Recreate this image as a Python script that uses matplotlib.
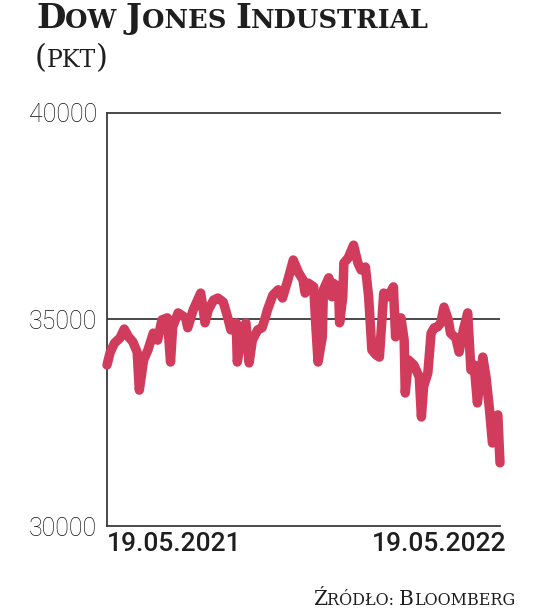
import matplotlib
matplotlib.use("Agg")
import matplotlib.pyplot as plt
import matplotlib.transforms as mtransforms
import pandas as pd

# days after 19.05.2021 and index close (points)
days = [0, 3, 7, 12, 16, 20, 24, 28, 30, 34, 38, 43, 47, 51, 56, 59, 61, 66,
        73, 75, 80, 87, 89, 91, 94, 99, 103, 108, 112, 115, 117, 120, 121, 126,
        129, 132, 135, 140, 144, 147, 149, 154, 159, 163, 168, 173, 178, 182,
        184, 187, 192, 194, 196, 200, 201, 206, 209, 210, 215, 216, 219, 220,
        224, 229, 233, 236, 240, 243, 246, 250, 253, 257, 261, 266, 268, 270,
        273, 276, 277, 280, 285, 290, 292, 294, 298, 301, 304, 307, 310, 313,
        317, 319, 324, 327, 331, 335, 338, 341, 344, 349, 352, 355, 358, 361,
        363, 365]
close = [33900, 34210, 34430, 34550, 34770, 34580, 34460, 34210, 33290, 34020,
         34260, 34670, 34500, 34990, 35040, 33970, 34820, 35160, 35040, 34800,
         35230, 35640, 35300, 34920, 35230, 35470, 35520, 35420, 35060, 34750,
         34750, 34920, 33970, 34750, 34920, 33950, 34500, 34750, 34800, 35040,
         35230, 35590, 35720, 35520, 35960, 36440, 36130, 35960, 35640, 35880,
         35790, 34820, 33970, 34580, 35720, 36010, 35550, 35880, 35790, 34920,
         35550, 36370, 36490, 36800, 36370, 36200, 36270, 35550, 34260, 34140,
         34090, 35640, 35550, 35790, 34580, 34990, 35040, 34500, 33220, 34020,
         33900, 33610, 32640, 33370, 33710, 34670, 34800, 34820, 34920, 35300,
         34990, 34670, 34550, 34210, 34750, 35160, 33780, 33900, 32980, 34090,
         33610, 32880, 32010, 32640, 32690, 31530]
start = "2021-05-19"
y_ticks = [30000, 35000, 40000]

dates = pd.Timestamp(start) + pd.to_timedelta(days, unit="D")

ink = "#1e1e1e"
axis_col = "#3a3a3a"
red = "#d23c5c"

fig = plt.figure(figsize=(5.36, 6.10), dpi=100)
ax = fig.add_axes([107 / 536, 1 - 526 / 610, 393 / 536, 413 / 610])

ax.axhline(35000, color=axis_col, lw=1.3, zorder=1)
ax.axhline(40000, color=axis_col, lw=1.3, zorder=1, clip_on=False)
ax.plot(dates, close, color=red, lw=6.8, solid_capstyle="round",
        solid_joinstyle="round", zorder=3, clip_on=False)

ax.set_ylim(30000, 40000)
ax.set_xlim(dates[0], dates[-1])
ax.set_yticks(y_ticks)
ax.set_yticklabels([str(v) for v in y_ticks], fontfamily="Roboto",
                   fontweight="light", fontsize=18, color="#111111")
ax.set_xticks([dates[0], dates[-1]])
ax.set_xticklabels([d.strftime("%d.%m.%Y") for d in [dates[0], dates[-1]]],
                   fontfamily="Roboto", fontweight="medium", fontsize=19,
                   color=ink)
ax.tick_params(axis="both", length=0)
ax.tick_params(axis="y", pad=7)
ax.tick_params(axis="x", pad=4)
lbls = ax.get_xticklabels()
lbls[0].set_ha("left")
lbls[1].set_ha("right")
shift = mtransforms.ScaledTranslation(7 / 100, 0, fig.dpi_scale_trans)
lbls[1].set_transform(lbls[1].get_transform() + shift)

for s in ["top", "right"]:
    ax.spines[s].set_visible(False)
for s in ["left", "bottom"]:
    ax.spines[s].set_color(axis_col)
    ax.spines[s].set_linewidth(1.3)


def small_caps(parts, x, y, ha="left", **kw):
    # parts: list of (text, size); drawn one after another on one baseline
    r = fig.canvas.get_renderer()
    arts = []
    cx = x
    for txt, size in parts:
        t = fig.text(cx, y, txt, fontsize=size, va="baseline", ha="left", **kw)
        cx = t.get_window_extent(r).x1 / fig.bbox.width
        arts.append(t)
    if ha == "right":
        dx = x - cx
        for t in arts:
            px, py = t.get_position()
            t.set_position((px + dx, py))
    return arts


small_caps([("D", 24.5), ("OW ", 18.5), ("J", 24.5), ("ONES ", 18.5),
            ("I", 24.5), ("NDUSTRIAL", 18.5)], 36 / 536, 1 - 28 / 610,
           family=["DejaVu Serif"], fontweight="bold", color=ink)
small_caps([("(", 22), ("PKT", 17), (")", 22)], 35 / 536, 1 - 67 / 610,
           family=["DejaVu Serif"], color=ink)
small_caps([("Ź", 14.5), ("RÓDŁO: ", 11.5), ("B", 14.5), ("LOOMBERG", 11.5)],
           515 / 536, 1 - 605 / 610, ha="right",
           family=["DejaVu Serif"], color=ink)

fig.savefig("out.png", dpi=100)
